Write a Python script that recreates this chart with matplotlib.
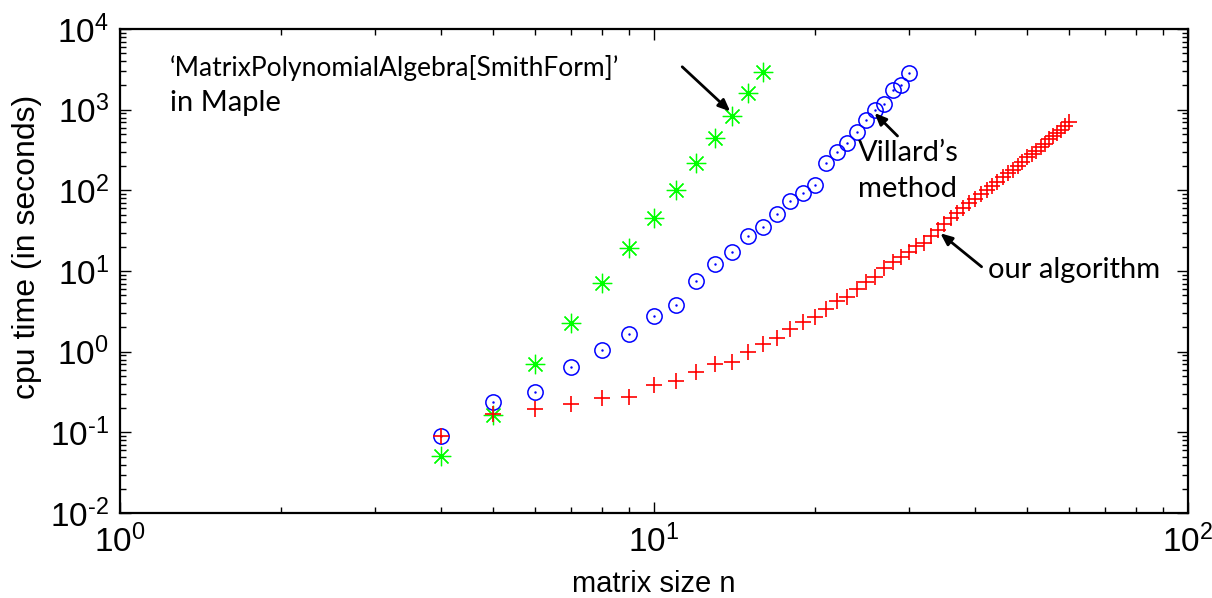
import numpy as np
import matplotlib
matplotlib.use("Agg")
import matplotlib.pyplot as plt
from matplotlib.ticker import FuncFormatter

plt.rcParams['font.family'] = ['Liberation Sans', 'DejaVu Sans']
plt.rcParams['mathtext.fontset'] = 'custom'
plt.rcParams['mathtext.rm'] = 'Liberation Sans'
plt.rcParams['axes.unicode_minus'] = False

# matrix size n for each method
n_maple = list(range(4, 17))
t_maple = [0.051, 0.166, 0.71, 2.28, 7.1, 19.2, 45, 101, 216, 441, 826, 1610, 2950]

n_villard = list(range(4, 31))
t_villard = [0.091, 0.239, 0.318, 0.65, 1.05, 1.66, 2.78, 3.8, 7.5, 12.2, 17.1,
             27.5, 35.5, 50.6, 74.5, 93.7, 117, 217, 297, 384, 534, 745, 991,
             1175, 1750, 2020, 2870]

n_ours = list(range(4, 61))
t_ours = [0.091, 0.17, 0.195, 0.225, 0.268, 0.275, 0.39, 0.435, 0.56, 0.70,
          0.75, 1.0, 1.25, 1.47, 1.9, 2.36, 2.72, 3.36, 4.27, 4.8, 5.95, 7.4,
          8.5, 10.8, 13.1, 14.8, 17.4, 20.6, 22.5, 27, 32.6, 38.6, 45, 52.5,
          61, 70, 79, 89, 101, 113, 128, 145, 163, 181, 200, 223, 257, 282,
          310, 345, 380, 430, 468, 510, 565, 622, 710]


def pow10_label(v, pos):
    e = int(round(np.log10(v)))
    return r'$\mathdefault{10^{\text{%d}}}$' % e


fig = plt.figure(figsize=(12.12, 5.98), dpi=100)
ax = fig.add_axes([0.099, 0.142, 0.881, 0.8095])

ax.plot(n_maple, t_maple, linestyle='none', marker=(8, 2, 0), markersize=14,
        markeredgewidth=0.9, color='#00ff00', zorder=2)
ax.plot(n_villard, t_villard, linestyle='none', marker='o', markersize=11,
        markerfacecolor='none', markeredgewidth=1.1, color='#0000ff', zorder=3)
ax.plot(n_villard, t_villard, linestyle='none', marker='.', markersize=1.5,
        color='#0000ff', zorder=3)
ax.plot(n_ours, t_ours, linestyle='none', marker='+', markersize=11,
        markeredgewidth=1.2, color='#ff0000', zorder=4)

ax.set_xscale('log')
ax.set_yscale('log')
ax.set_xlim(1, 100)
ax.set_ylim(1e-2, 1e4)
ax.set_xticks([1, 10, 100])
ax.set_yticks([1e-2, 1e-1, 1e0, 1e1, 1e2, 1e3, 1e4])
ax.xaxis.set_major_formatter(FuncFormatter(pow10_label))
ax.yaxis.set_major_formatter(FuncFormatter(pow10_label))

ax.tick_params(which='both', direction='in', top=True, right=True, labelsize=24)
ax.tick_params(which='major', length=8, width=1)
ax.tick_params(which='minor', length=4, width=1)
ax.tick_params(axis='x', pad=8)
ax.tick_params(axis='y', pad=8)
for s in ax.spines.values():
    s.set_linewidth(1.6)

ax.set_xlabel('matrix size n', fontsize=21, labelpad=8)
ax.set_ylabel('cpu time (in seconds)', fontsize=23)
ax.yaxis.set_label_coords(-0.073, 0.55)

ann_font = dict(family=['Lato', 'DejaVu Sans'], fontsize=21)
arrow = dict(arrowstyle='-|>,head_length=0.7,head_width=0.3', color='black', lw=2,
             shrinkA=0, shrinkB=0)

ax.annotate('', xy=(13.9, 950), xytext=(11.3, 3400), arrowprops=arrow)
ax.text(1.24, 3290, '\u2018MatrixPolynomialAlgebra[SmithForm]\u2019', va='center', ha='left',
        family=['Lato', 'DejaVu Sans'], fontsize=19)
ax.text(1.24, 1210, 'in Maple', va='center', ha='left', **ann_font)

ax.annotate('', xy=(25.9, 910), xytext=(28.6, 472), arrowprops=arrow)
ax.text(24.1, 290, 'Villard\u2019s', va='center', ha='left', **ann_font)
ax.text(24.1, 103, 'method', va='center', ha='left', **ann_font)

ax.annotate('', xy=(34.4, 29.4), xytext=(41.1, 11.3), arrowprops=arrow)
ax.text(42.2, 10.3, 'our algorithm', va='center', ha='left', **ann_font)

fig.savefig('out.png', dpi=100)
